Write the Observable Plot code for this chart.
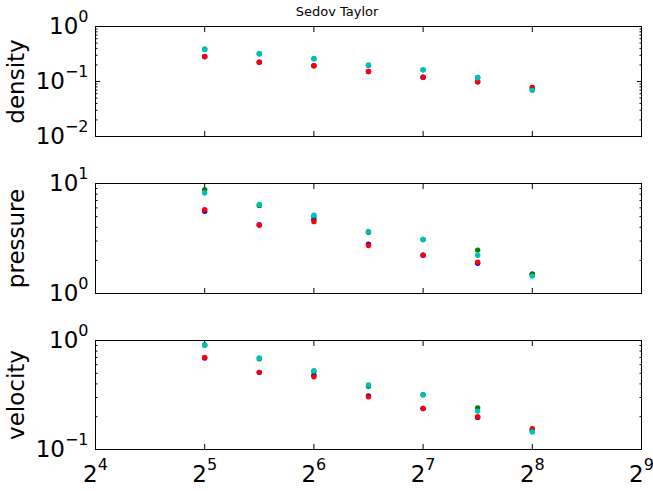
<!DOCTYPE html>
<html><head><meta charset="utf-8">
<script src="https://cdn.jsdelivr.net/npm/d3@7"></script>
<script src="https://cdn.jsdelivr.net/npm/@observablehq/plot@0.6"></script>
<style>
body{margin:0;background:#fff;}
#chart{position:relative;width:653px;height:491px;font-family:"DejaVu Sans",sans-serif;background:#fff;}
#chart svg{position:absolute;left:0;overflow:visible;}
#title{position:absolute;left:0;top:4px;width:674px;text-align:center;font-size:13px;line-height:16px;color:#000;}
</style></head><body>
<div id="chart"><div id="title">Sedov Taylor</div></div>
<script>
// resolutions (2^5 ... 2^8 in half-octave steps)
const resolutions = [32, 45.25, 64, 90.5, 128, 181, 256];
const xTicks = [16, 32, 64, 128, 256, 512];
const minorMultipliers = [2, 3, 4, 5, 6, 7, 8, 9];

const seriesNames = ["blue", "red", "green", "cyan"];
const seriesColors = ["#0000ff", "#ff0000", "#008000", "#00bfbf"];

// density
const densityBlue  = [0.285, 0.225, 0.193, 0.152, 0.120, 0.099, 0.077];
const densityRed   = [0.281, 0.224, 0.193, 0.152, 0.120, 0.099, 0.078];
const densityGreen = [0.386, 0.319, 0.259, 0.198, 0.163, 0.118, 0.070];
const densityCyan  = [0.386, 0.319, 0.259, 0.198, 0.163, 0.117, 0.069];
const densityTicks = [0.01, 0.1, 1];

// pressure
const pressureBlue  = [5.6, 4.2, 4.7, 2.80, 2.23, 1.88, 1.49];
const pressureRed   = [5.77, 4.2, 4.5, 2.73, 2.23, 1.93, 1.50];
const pressureGreen = [8.8, 6.3, 5.05, 3.60, 3.10, 2.48, 1.50];
const pressureCyan  = [8.2, 6.44, 5.15, 3.66, 3.10, 2.23, 1.44];
const pressureTicks = [1, 10];

// velocity
const velocityBlue  = [0.69, 0.51, 0.48, 0.310, 0.238, 0.197, 0.152];
const velocityRed   = [0.70, 0.51, 0.464, 0.304, 0.238, 0.200, 0.155];
const velocityGreen = [0.91, 0.68, 0.52, 0.380, 0.318, 0.241, 0.147];
const velocityCyan  = [0.905, 0.69, 0.527, 0.390, 0.318, 0.225, 0.145];
const velocityTicks = [0.1, 1];

function minorTicks(majors) {
  const out = [];
  for (let i = 0; i < majors.length - 1; i++) for (const m of minorMultipliers) out.push(majors[i] * m);
  return out;
}

function supify(svg) {
  for (const t of svg.querySelectorAll("text")) {
    const s = t.textContent;
    const m = s.match(/^(\d+)\^(.+)$/);
    if (!m) continue;
    t.textContent = "";
    const ns = "http://www.w3.org/2000/svg";
    const a = document.createElementNS(ns, "tspan"); a.textContent = m[1];
    const b = document.createElementNS(ns, "tspan"); b.textContent = m[2];
    b.setAttribute("font-size", "16px"); b.setAttribute("dy", "-12");
    t.append(a, b);
  }
}

function panel({label, ticks, series, top, height, mt, mb, xLabels}) {
  const rows = [];
  series.forEach((vals, s) => vals.forEach((v, i) => rows.push({x: resolutions[i], y: v, s})));
  const minors = minorTicks(ticks);
  const marks = [
    Plot.frame({stroke: "#000", strokeWidth: 1}),
    Plot.axisY({anchor: "left", ticks: minors, tickSize: -2.5, tickFormat: () => "", label: null}),
    Plot.axisY({anchor: "right", ticks: minors, tickSize: -2.5, tickFormat: () => "", label: null}),
    Plot.axisY({anchor: "left", ticks, tickSize: -5, tickFormat: () => "", label: null}),
    Plot.axisY({anchor: "right", ticks, tickSize: -5, tickFormat: () => "", label: null}),
    Plot.axisY({anchor: "left", ticks, tickSize: 0, tickPadding: 7, fontSize: 23, label: null,
      tickFormat: d => `10^${String(Math.round(Math.log10(d))).replace("-", "\u2212")}`}),
    Plot.axisX({anchor: "top", ticks: xTicks, tickSize: -5, tickFormat: () => "", label: null}),
    Plot.axisX({anchor: "bottom", ticks: xTicks, tickSize: -5, tickFormat: () => "", label: null}),
    Plot.text([label], {text: d => d, frameAnchor: "left", textAnchor: "middle", lineAnchor: "middle", rotate: -90, dx: -79, fontSize: 23, fill: "#000"})
  ];
  if (xLabels) marks.push(Plot.axisX({anchor: "bottom", ticks: xTicks, tickSize: 0, tickPadding: 16, fontSize: 23, label: null,
    tickFormat: d => `2^${Math.round(Math.log2(d))}`}));
  series.forEach((vals, s) => marks.push(Plot.dot(rows.filter(r => r.s === s), {x: "x", y: "y", r: 2.7, fill: seriesColors[s], stroke: "none"})));
  const svg = Plot.plot({
    width: 653, height, marginLeft: 95, marginRight: 12, marginTop: mt, marginBottom: mb,
    style: {fontFamily: "DejaVu Sans", background: "transparent", color: "#000"},
    x: {type: "log", base: 2, domain: [16, 512]},
    y: {type: "log", domain: [ticks[0], ticks[ticks.length - 1]]},
    marks
  });
  supify(svg);
  svg.style.top = top + "px";
  document.getElementById("chart").append(svg);
}

panel({label: "density", ticks: densityTicks, series: [densityBlue, densityRed, densityGreen, densityCyan], top: 0, height: 160, mt: 26, mb: 24});
panel({label: "pressure", ticks: pressureTicks, series: [pressureBlue, pressureRed, pressureGreen, pressureCyan], top: 160, height: 155, mt: 23, mb: 22});
panel({label: "velocity", ticks: velocityTicks, series: [velocityBlue, velocityRed, velocityGreen, velocityCyan], top: 315, height: 176, mt: 25, mb: 42, xLabels: true});
</script>
</body></html>
